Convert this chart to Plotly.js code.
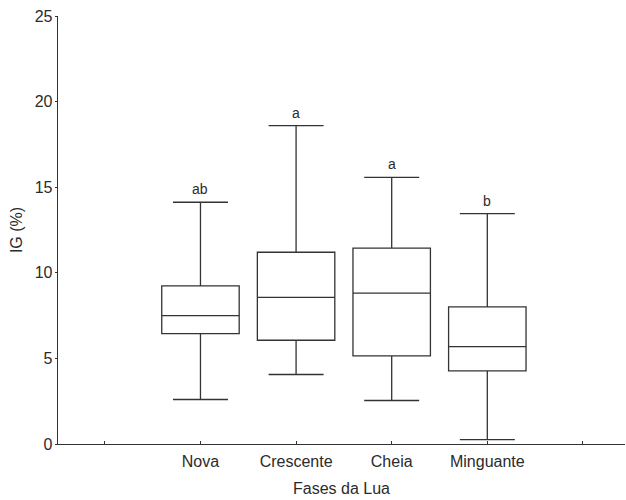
<!DOCTYPE html>
<html>
<head>
<meta charset="utf-8">
<script src="https://cdn.plot.ly/plotly-3.0.1.min.js"></script>
<style>html,body{margin:0;padding:0;background:#fff;}#chart{width:626px;height:500px;}</style>
</head>
<body>
<div id="chart"></div>
<script>
const categories = ["Nova", "Crescente", "Cheia", "Minguante"];
const positions = [1, 2, 3, 4];
const lowerWhisker = [2.6, 4.06, 2.54, 0.26];
const q1 = [6.45, 6.06, 5.15, 4.27];
const median = [7.5, 8.57, 8.81, 5.69];
const q3 = [9.24, 11.2, 11.44, 8.01];
const upperWhisker = [14.12, 18.6, 15.57, 13.46];
const letters = ["ab", "a", "a", "b"];
const tickPositions = [0, 1, 2, 3, 4, 5];
const tickLabels = ["", "Nova", "Crescente", "Cheia", "Minguante", ""];
const yTicks = [0, 5, 10, 15, 20, 25];

const textColor = "#2b2b2b";
const lineColor = "#333333";
const fontFamily = "Liberation Sans, Arial, sans-serif";

const trace = {
  type: "box",
  x: positions,
  q1: q1,
  median: median,
  q3: q3,
  lowerfence: lowerWhisker,
  upperfence: upperWhisker,
  width: 0.81,
  whiskerwidth: 0.71,
  fillcolor: "rgba(255,255,255,0)",
  line: {color: lineColor, width: 1.3},
  boxpoints: false,
  hoverinfo: "skip",
  showlegend: false
};

const annotations = positions.map((p, i) => ({
  x: p, y: upperWhisker[i], xref: "x", yref: "y",
  text: letters[i], showarrow: false,
  yanchor: "bottom", yshift: 3,
  font: {family: fontFamily, size: 14, color: textColor}
}));

const layout = {
  width: 626, height: 500,
  margin: {l: 58, r: 1, t: 16, b: 56},
  paper_bgcolor: "#fff", plot_bgcolor: "#fff",
  font: {family: fontFamily, size: 16, color: textColor},
  showlegend: false,
  xaxis: {
    range: [-0.49, 5.44],
    tickmode: "array", tickvals: tickPositions, ticktext: tickLabels,
    ticks: "inside", ticklen: 3, tickcolor: lineColor, tickwidth: 1,
    ticklabelstandoff: 2,
    showline: true, linecolor: lineColor, linewidth: 1.3,
    showgrid: false, zeroline: false,
    tickfont: {size: 16, color: textColor},
    title: {text: "Fases da Lua", font: {size: 16, color: textColor}, standoff: 14}
  },
  yaxis: {
    range: [0, 25],
    tickmode: "array", tickvals: yTicks,
    ticks: "outside", ticklen: 2, tickcolor: lineColor, tickwidth: 1,
    ticklabelstandoff: -1,
    showline: true, linecolor: lineColor, linewidth: 1.3,
    showgrid: false, zeroline: false,
    tickfont: {size: 16, color: textColor},
    title: {text: "IG (%)", font: {size: 16, color: textColor}, standoff: 8}
  },
  annotations: annotations
};

Plotly.newPlot("chart", [trace], layout, {displayModeBar: false, staticPlot: true});
</script>
</body>
</html>
